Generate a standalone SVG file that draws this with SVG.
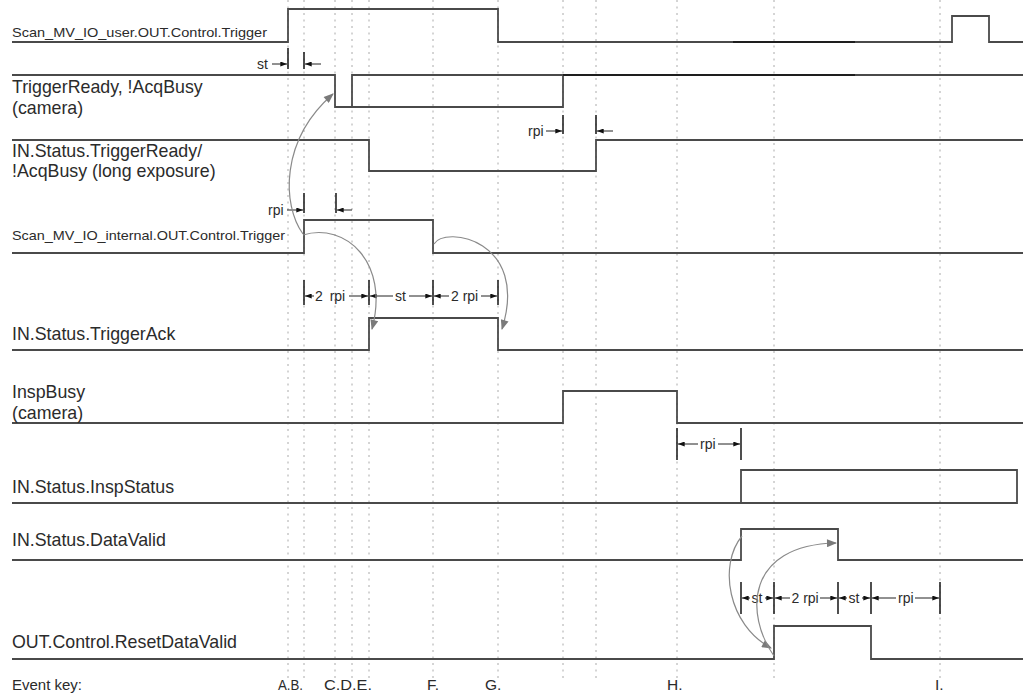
<svg xmlns="http://www.w3.org/2000/svg" width="1023" height="693" viewBox="0 0 1023 693">
<defs>
<marker id="arcHead" markerUnits="userSpaceOnUse" viewBox="0 0 10 8" refX="9" refY="4" markerWidth="11" markerHeight="8" orient="auto"><path d="M0,0 L10,4 L0,8 z" fill="#7a7a7a"/></marker>
<marker id="dimHead" markerUnits="userSpaceOnUse" viewBox="0 0 8 6" refX="8" refY="3" markerWidth="7" markerHeight="5" orient="auto"><path d="M0,0 L8,3 L0,6 z" fill="#111"/></marker>
</defs>
<style>
.grid{stroke:#aaa;stroke-width:1;stroke-dasharray:2 4.5}
.sig{fill:none;stroke:#4a4a4a;stroke-width:1.8}
.dk{fill:none;stroke:#1e1e1e;stroke-width:1.8}
.lbl{font-family:"Liberation Sans",Arial,sans-serif;font-size:17.8px;fill:#2b2b2b}
.sml{font-family:"Liberation Sans",Arial,sans-serif;font-size:12.8px;fill:#2b2b2b}
.dt{font-family:"Liberation Sans",Arial,sans-serif;font-size:14px;fill:#2b2b2b}
.ev{font-family:"Liberation Sans",Arial,sans-serif;font-size:15.5px;fill:#2b2b2b}
.tick{stroke:#222;stroke-width:1.6}
.dl{stroke:#222;stroke-width:1;marker-end:url(#dimHead)}
.arc{fill:none;stroke:#8a8a8a;stroke-width:1.2;marker-end:url(#arcHead)}
</style>
<rect width="1023" height="693" fill="#fff"/>
<g id="grid">
<line class="grid" x1="288" y1="0" x2="288" y2="678"/>
<line class="grid" x1="304" y1="0" x2="304" y2="678"/>
<line class="grid" x1="335" y1="0" x2="335" y2="678"/>
<line class="grid" x1="352" y1="0" x2="352" y2="678"/>
<line class="grid" x1="369" y1="0" x2="369" y2="678"/>
<line class="grid" x1="433" y1="0" x2="433" y2="678"/>
<line class="grid" x1="498" y1="0" x2="498" y2="678"/>
<line class="grid" x1="563" y1="0" x2="563" y2="678"/>
<line class="grid" x1="596" y1="0" x2="596" y2="678"/>
<line class="grid" x1="677" y1="0" x2="677" y2="678"/>
<line class="grid" x1="774" y1="0" x2="774" y2="678"/>
<line class="grid" x1="940" y1="0" x2="940" y2="678"/>
</g>
<g id="sig-user-trigger">
<path class="sig" d="M12,42 H288 V9 H498 V42 H952 V16 H989 V42 H1023"/>
<path class="dk" d="M733,42 H855"/>
<text class="sml" x="12" y="37" textLength="255" lengthAdjust="spacingAndGlyphs">Scan_MV_IO_user.OUT.Control.Trigger</text>
</g>
<g id="sig-triggerready-camera">
<path class="sig" d="M12,75 H335 V107 H563 V75 H1023"/>
<path class="sig" d="M352,107 V75 H563"/>
<path class="dk" d="M563,75 H855"/>
<text class="lbl" x="12" y="93">TriggerReady, !AcqBusy</text>
<text class="lbl" x="12" y="113.5">(camera)</text>
</g>
<g id="sig-in-triggerready">
<path class="sig" d="M12,140 H369 V171 H596 V140 H1023"/>
<text class="lbl" x="12" y="156.5">IN.Status.TriggerReady/</text>
<text class="lbl" x="12" y="177">!AcqBusy (long exposure)</text>
</g>
<g id="sig-internal-trigger">
<path class="sig" d="M12,253 H304 V220 H433 V253 H1023"/>
<text class="sml" x="12" y="240" textLength="273" lengthAdjust="spacingAndGlyphs">Scan_MV_IO_internal.OUT.Control.Trigger</text>
</g>
<g id="sig-triggerack">
<path class="sig" d="M12,350 H369 V318 H498 V350 H1023"/>
<text class="lbl" x="12" y="340">IN.Status.TriggerAck</text>
</g>
<g id="sig-inspbusy">
<path class="sig" d="M12,423 H563 V391 H677 V423 H1023"/>
<text class="lbl" x="12" y="398">InspBusy</text>
<text class="lbl" x="12" y="418.5">(camera)</text>
</g>
<g id="sig-inspstatus">
<path class="sig" d="M12,503 H1017 V470 H741 V503"/>
<text class="lbl" x="12" y="493">IN.Status.InspStatus</text>
</g>
<g id="sig-datavalid">
<path class="sig" d="M12,560 H741 V529 H838 V560 H1023"/>
<text class="lbl" x="12" y="546">IN.Status.DataValid</text>
</g>
<g id="sig-resetdatavalid">
<path class="sig" d="M12,659 H774 V626 H871 V659 H1023"/>
<text class="lbl" x="12" y="648">OUT.Control.ResetDataValid</text>
</g>
<g id="dimensions">
<line class="tick" x1="288" y1="48" x2="288" y2="69"/>
<line class="tick" x1="304" y1="52" x2="304" y2="69"/>
<text class="dt" x="257" y="68.5">st</text>
<line class="dl" x1="272" y1="64" x2="287" y2="64"/>
<line class="dl" x1="321" y1="64" x2="305" y2="64"/>

<line class="tick" x1="563" y1="115" x2="563" y2="134"/>
<line class="tick" x1="596" y1="115" x2="596" y2="134"/>
<text class="dt" x="528" y="135.5">rpi</text>
<line class="dl" x1="546" y1="131" x2="562" y2="131"/>
<line class="dl" x1="613" y1="131" x2="597" y2="131"/>

<line class="tick" x1="304" y1="193" x2="304" y2="213"/>
<line class="tick" x1="336" y1="193" x2="336" y2="213"/>
<text class="dt" x="268" y="214.5">rpi</text>
<line class="dl" x1="287" y1="210" x2="303" y2="210"/>
<line class="dl" x1="352" y1="210" x2="337" y2="210"/>

<line class="tick" x1="304" y1="280" x2="304" y2="305"/>
<line class="tick" x1="369" y1="280" x2="369" y2="305"/>
<line class="tick" x1="433" y1="280" x2="433" y2="305"/>
<line class="tick" x1="498" y1="280" x2="498" y2="305"/>
<line class="dl" x1="314" y1="296" x2="305" y2="296"/>
<text class="dt" x="315" y="300.5" word-spacing="3">2 rpi</text>
<line class="dl" x1="349" y1="296" x2="368" y2="296"/>
<line class="dl" x1="393" y1="296" x2="370" y2="296"/>
<text class="dt" x="395" y="300.5">st</text>
<line class="dl" x1="409" y1="296" x2="432" y2="296"/>
<line class="dl" x1="449" y1="296" x2="434" y2="296"/>
<text class="dt" x="451" y="300.5">2 rpi</text>
<line class="dl" x1="481" y1="296" x2="497" y2="296"/>

<line class="tick" x1="677" y1="428" x2="677" y2="460"/>
<line class="tick" x1="741" y1="428" x2="741" y2="460"/>
<line class="dl" x1="698" y1="444" x2="678" y2="444"/>
<text class="dt" x="700" y="448.5">rpi</text>
<line class="dl" x1="718" y1="444" x2="740" y2="444"/>

<line class="tick" x1="741" y1="582" x2="741" y2="614"/>
<line class="tick" x1="774" y1="582" x2="774" y2="614"/>
<line class="tick" x1="838" y1="582" x2="838" y2="614"/>
<line class="tick" x1="871" y1="582" x2="871" y2="614"/>
<line class="tick" x1="940" y1="582" x2="940" y2="614"/>
<line class="dl" x1="750" y1="598" x2="742" y2="598"/>
<text class="dt" x="751.5" y="602.5">st</text>
<line class="dl" x1="765" y1="598" x2="773" y2="598"/>
<line class="dl" x1="790" y1="598" x2="775" y2="598"/>
<text class="dt" x="791.5" y="602.5">2 rpi</text>
<line class="dl" x1="820" y1="598" x2="837" y2="598"/>
<line class="dl" x1="847" y1="598" x2="839" y2="598"/>
<text class="dt" x="848.5" y="602.5">st</text>
<line class="dl" x1="862" y1="598" x2="870" y2="598"/>
<line class="dl" x1="896" y1="598" x2="872" y2="598"/>
<text class="dt" x="898" y="602.5">rpi</text>
<line class="dl" x1="915" y1="598" x2="939" y2="598"/>
</g>
<g id="connectors">
<path class="arc" d="M303,234 C282,205 280,140 333,94"/>
<path class="arc" d="M303,235 C345,222 390,262 372,329"/>
<path class="arc" d="M434,244 C445,225 530,240 502,329"/>
<path class="arc" d="M742,536 C718,565 728,625 771,648"/>
<path class="arc" d="M774,656 C745,615 745,545 836,543"/>
</g>
<g id="event-labels">
<text class="ev" x="278" y="690" textLength="25" lengthAdjust="spacingAndGlyphs">A.B.</text>
<text class="ev" x="324" y="690" textLength="48" lengthAdjust="spacingAndGlyphs">C.D.E.</text>
<text class="ev" x="427" y="690">F.</text>
<text class="ev" x="485" y="690">G.</text>
<text class="ev" x="667" y="690">H.</text>
<text class="ev" x="935" y="690">I.</text>
<text class="lbl" x="12" y="690" style="font-size:15px">Event key:</text>
</g>
</svg>
